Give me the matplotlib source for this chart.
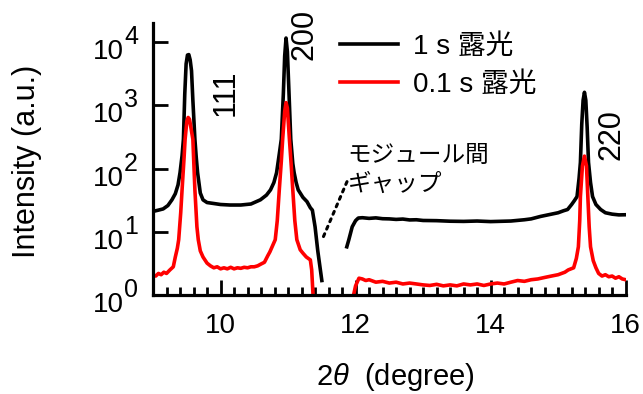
import matplotlib.pyplot as plt
from matplotlib.ticker import FixedLocator, MultipleLocator, NullFormatter

plt.rcParams['font.family'] = ['Liberation Sans', 'Noto Sans CJK JP']
plt.rcParams['mathtext.fontset'] = 'custom'
plt.rcParams['mathtext.rm'] = 'Liberation Sans'
plt.rcParams['mathtext.it'] = 'Liberation Sans:italic'

# 1 s exposure, first detector module
x_long_a = [9.0, 9.08, 9.15, 9.22, 9.28, 9.33, 9.37, 9.4, 9.43, 9.45, 9.47, 9.49, 9.51,
            9.53, 9.55, 9.57, 9.59, 9.62, 9.64, 9.66, 9.7, 9.74, 9.8, 9.9, 10.0, 10.14,
            10.3, 10.45, 10.59, 10.68, 10.74, 10.79, 10.83, 10.87, 10.9, 10.93, 10.95,
            10.97, 10.99, 11.01, 11.04, 11.07, 11.09, 11.12, 11.15, 11.22, 11.28, 11.33,
            11.36, 11.4, 11.44, 11.5]
y_long_a = [21, 22, 23, 26, 32, 40, 55, 86, 160, 290, 1500, 4500, 6200,
            6300, 5200, 3500, 1200, 290, 150, 86, 41, 32, 29, 28, 27, 26.5,
            26.5, 27.5, 32, 38, 46, 60, 86, 170, 290, 1500, 6000,
            11500, 7000, 2000, 290, 120, 86, 60, 46, 35, 30, 24,
            22, 12, 5, 1.7]
# 1 s exposure, second module
x_long_b = [11.87, 11.9, 11.95, 12.0, 12.04, 12.1, 12.2, 12.3, 12.4, 12.5, 12.6, 12.7,
            12.8, 12.9, 13.0, 13.2, 13.4, 13.6, 13.8, 14.0, 14.2, 14.3, 14.5, 14.6,
            14.74, 14.9, 15.0, 15.08, 15.14, 15.2, 15.24, 15.28, 15.31, 15.33, 15.35,
            15.37, 15.39, 15.41, 15.43, 15.45, 15.48, 15.51, 15.56, 15.63, 15.7, 15.8,
            15.9, 16.0]
y_long_b = [5.8, 7.5, 12, 15, 16.5, 16.7, 16.3, 16.6, 16.1, 16.0, 15.7, 15.9,
            15.4, 15.5, 15.1, 15.0, 14.7, 14.6, 14.8, 14.5, 14.7, 14.8, 15.5, 16,
            17.5, 19, 20, 21.5, 22.5, 27, 31, 36, 70, 125, 500,
            1200, 1600, 1200, 450, 125, 60, 36, 27, 22.5, 20, 19,
            18.5, 18.6]

# 0.1 s exposure, first module
x_short_a = [9.0, 9.04, 9.08, 9.12, 9.16, 9.2, 9.25, 9.3, 9.33, 9.36, 9.38, 9.41, 9.43,
             9.46, 9.475, 9.5, 9.52, 9.54, 9.56, 9.59, 9.62, 9.65, 9.67, 9.7, 9.74, 9.8,
             9.85, 9.9, 9.95, 10.0, 10.05, 10.1, 10.15, 10.2, 10.25, 10.3, 10.35, 10.4,
             10.45, 10.5, 10.55, 10.6, 10.65, 10.7, 10.73, 10.77, 10.81, 10.84, 10.87,
             10.9, 10.92, 10.95, 10.97, 10.99, 11.02, 11.05, 11.07, 11.1, 11.13, 11.18,
             11.22, 11.27, 11.33, 11.35, 11.37, 11.38]
y_short_a = [2.1, 2.0, 2.2, 2.1, 2.3, 2.2, 2.5, 2.8, 4, 5.5, 7.5, 20, 46,
             150, 290, 550, 640, 600, 450, 290, 46, 12, 7.5, 5, 4, 3.2,
             2.9, 2.7, 2.8, 2.6, 2.7, 2.6, 2.75, 2.6, 2.7, 2.65, 2.75, 2.7,
             2.8, 2.8, 2.9, 3.1, 3.3, 4.2, 4.8, 6, 7.5, 15, 46,
             130, 290, 800, 1100, 900, 290, 100, 46, 15, 7.5, 5.2,
             4.6, 4.0, 3.6, 2.5, 1.0, 0.5]
# 0.1 s exposure, second module
x_short_b = [11.94, 11.97, 12.0, 12.05, 12.1, 12.15, 12.2, 12.3, 12.4, 12.5, 12.6, 12.7,
             12.8, 12.9, 13.0, 13.1, 13.2, 13.3, 13.4, 13.5, 13.6, 13.7, 13.8, 13.9,
             14.0, 14.1, 14.2, 14.3, 14.4, 14.5, 14.6, 14.7, 14.8, 14.9, 15.0, 15.1,
             15.15, 15.23, 15.27, 15.3, 15.32, 15.33, 15.36, 15.39, 15.42, 15.44, 15.46,
             15.48, 15.52, 15.56, 15.6, 15.65, 15.7, 15.75, 15.8, 15.85, 15.9, 15.95, 16.0]
y_short_b = [0.5, 1.0, 1.4, 1.85, 1.8, 1.7, 1.75, 1.6, 1.65, 1.55, 1.6, 1.5,
             1.55, 1.5, 1.45, 1.42, 1.48, 1.4, 1.45, 1.4, 1.5, 1.45, 1.5, 1.42,
             1.5, 1.55, 1.5, 1.6, 1.7, 1.65, 1.75, 1.8, 1.9, 2.0, 2.1, 2.3,
             2.5, 2.7, 3.8, 5.8, 15, 36, 110, 157, 110, 36, 12,
             5.8, 3.5, 2.7, 2.2, 2.0, 2.1, 1.95, 2.0, 1.85, 1.95, 1.8, 1.75]

labels = ['1 s 露光', '0.1 s 露光']
peaks = ['111', '200', '220']
decades = [0, 1, 2, 3, 4]

fig = plt.figure(figsize=(6.43, 3.94), dpi=100)
ax = fig.add_axes([0.238, 0.251, 0.735, 0.691])

ax.plot(x_long_a, y_long_a, color='black', lw=2.6, label=labels[0])
ax.plot(x_long_b, y_long_b, color='black', lw=2.6)
ax.plot(x_short_a, y_short_a, color='red', lw=2.6, label=labels[1])
ax.plot(x_short_b, y_short_b, color='red', lw=2.6)

ax.set_yscale('log')
ax.set_xlim(9, 16)
ax.set_ylim(1, 2e4)

for s in ['top', 'right']:
    ax.spines[s].set_visible(False)
for s in ['left', 'bottom']:
    ax.spines[s].set_linewidth(2.3)

ax.yaxis.set_major_locator(FixedLocator([10.0 ** d for d in decades]))
ax.yaxis.set_minor_locator(FixedLocator([]))
ax.yaxis.set_major_formatter(NullFormatter())
ax.xaxis.set_major_locator(MultipleLocator(2))
ax.xaxis.set_minor_locator(MultipleLocator(0.2))
ax.tick_params(which='major', direction='in', length=11, width=2, labelsize=20)
ax.tick_params(axis='x', which='major', pad=13)
ax.tick_params(which='minor', direction='in', length=6, width=2)

# y labels as 10 with a large exponent
for d in decades:
    ax.annotate('10', xy=(0, 10.0 ** d), xycoords=('axes fraction', 'data'),
                xytext=(-29, -17), textcoords='offset pixels',
                ha='right', va='baseline', fontsize=20, annotation_clip=False)
    ax.annotate(str(d), xy=(0, 10.0 ** d), xycoords=('axes fraction', 'data'),
                xytext=(-29, -2), textcoords='offset pixels',
                ha='left', va='baseline', fontsize=18, annotation_clip=False)

ax.set_xlabel(r'2$\theta$  (degree)', fontsize=21, va='top')
ax.xaxis.set_label_coords(0.513, -0.242)
ax.set_ylabel('Intensity (a.u.)', fontsize=22)
ax.yaxis.set_label_coords(-0.235, 0.49)

# peak indices
ax.text(10.068, 1590, peaks[0], rotation=90, fontsize=22, ha='center', va='center')
ax.text(11.247, 12900, peaks[1], rotation=90, fontsize=22, ha='center', va='center')
ax.text(15.79, 340, peaks[2], rotation=90, fontsize=22, ha='center', va='center')

# module gap note
ax.text(11.88, 233, 'モジュール間\nギャップ', fontsize=17, ha='left', va='top',
        linespacing=1.39)
ax.annotate('', xy=(11.502, 7.4), xytext=(11.873, 62),
            arrowprops=dict(arrowstyle='-', linestyle=':', lw=2.2, color='black',
                            shrinkA=0, shrinkB=0))

ax.legend(loc='upper left', bbox_to_anchor=(0.529, 0.914), bbox_transform=fig.transFigure,
          frameon=False, fontsize=20, handlelength=2.1, handletextpad=0.54,
          labelspacing=0.44, borderpad=0, borderaxespad=0)

fig.savefig('out.png', dpi=100)
